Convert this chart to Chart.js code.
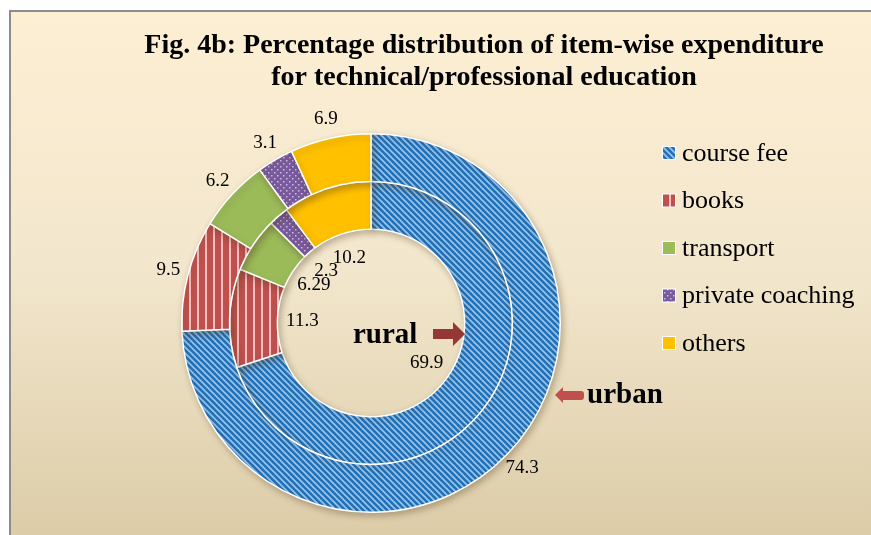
<!DOCTYPE html>
<html lang="en">
<head>
<meta charset="utf-8">
<title>Fig. 4b</title>
<script src="https://cdn.jsdelivr.net/npm/chart.js@4.4.1/dist/chart.umd.min.js"></script>
<style>
  html, body { margin: 0; padding: 0; background: #fff; }
  .c-chart { position: relative; width: 871px; height: 535px; }
</style>
</head>
<body>
<div class="c-chart"><canvas class="js-chart" width="871" height="535"></canvas></div>
<script>
//#region ***  Data                                     ***********
const titleLines = [
  "Fig. 4b: Percentage distribution of item-wise expenditure",
  "for technical/professional education",
];
const items = ["course fee", "books", "transport", "private coaching", "others"];
const urbanValues = [74.3, 9.5, 6.2, 3.1, 6.9];
const ruralValues = [69.9, 11.3, 6.29, 2.3, 10.2];
const urbanLabels = ["74.3", "9.5", "6.2", "3.1", "6.9"];
const ruralLabels = ["69.9", "11.3", "6.29", "2.3", "10.2"];
//#endregion

//#region ***  Patterns                                 ***********
const makeTile = function (size, drawFn) {
  const c = document.createElement("canvas");
  c.width = size;
  c.height = size;
  const g = c.getContext("2d");
  drawFn(g, size);
  return document.createElement("canvas").getContext("2d").createPattern(c, "repeat");
};

const getFills = function () {
  const courseFee = makeTile(6, function (g, s) {
    g.fillStyle = "#2271b8";
    g.fillRect(0, 0, s, s);
    g.strokeStyle = "#9cc6ec";
    g.lineWidth = 1.6;
    g.beginPath();
    g.moveTo(-1, -1); g.lineTo(s + 1, s + 1);
    g.moveTo(s - 1, -1); g.lineTo(s + 1, 1);
    g.moveTo(-1, s - 1); g.lineTo(1, s + 1);
    g.stroke();
  });
  const books = makeTile(8, function (g, s) {
    g.fillStyle = "#c0504d";
    g.fillRect(0, 0, s, s);
    g.fillStyle = "#efc2c0";
    g.fillRect(5, 0, 2, s);
  });
  const coaching = makeTile(6, function (g, s) {
    g.fillStyle = "#7a5a9e";
    g.fillRect(0, 0, s, s);
    g.fillStyle = "#cbbde0";
    g.fillRect(1, 1, 1.5, 1.5);
    g.fillRect(4, 4, 1.5, 1.5);
  });
  return [courseFee, books, "#9bbb59", coaching, "#ffc000"];
};
//#endregion

//#region ***  Plugins                                  ***********
const backgroundPlugin = {
  id: "background",
  beforeDraw: function (chart) {
    const ctx = chart.ctx;
    ctx.save();
    ctx.fillStyle = "#ffffff";
    ctx.fillRect(0, 0, chart.width, chart.height);
    const grad = ctx.createLinearGradient(0, 10, 0, chart.height);
    grad.addColorStop(0, "#fdefd4");
    grad.addColorStop(0.5, "#f2e6cc");
    grad.addColorStop(1, "#dccca8");
    ctx.fillStyle = grad;
    ctx.fillRect(9, 10, chart.width - 9, chart.height - 10);
    ctx.fillStyle = "#8c8c8c";
    ctx.fillRect(9, 10, chart.width - 9, 2);
    ctx.fillRect(9, 10, 2, chart.height - 10);
    ctx.restore();
  },
};

// soft shadow under the rings, like the office chart
const shadowPlugin = {
  id: "ringShadow",
  beforeDatasetsDraw: function (chart) {
    chart.ctx.save();
    chart.ctx.shadowColor = "rgba(90, 70, 40, 0.35)";
    chart.ctx.shadowBlur = 6;
    chart.ctx.shadowOffsetX = 2;
    chart.ctx.shadowOffsetY = 3;
  },
  afterDatasetsDraw: function (chart) {
    chart.ctx.restore();
  },
};

const textPlugin = {
  id: "texts",
  afterDatasetsDraw: function (chart) {
    const ctx = chart.ctx;
    ctx.save();
    ctx.fillStyle = "#000000";
    ctx.textAlign = "center";
    ctx.textBaseline = "middle";

    // title
    ctx.font = "bold 28px 'Liberation Serif', 'Times New Roman', serif";
    ctx.fillText(titleLines[0], 484, 46);
    ctx.fillText(titleLines[1], 484, 78);

    // value labels
    ctx.font = "19px 'Liberation Serif', 'Times New Roman', serif";
    const ringLabels = [urbanLabels, ruralLabels];
    chart.data.datasets.forEach(function (ds, di) {
      const meta = chart.getDatasetMeta(di);
      meta.data.forEach(function (arc, i) {
        const p = arc.getProps(["x", "y", "startAngle", "endAngle", "innerRadius", "outerRadius"], true);
        const mid = (p.startAngle + p.endAngle) / 2;
        const r = di === 0 ? p.outerRadius + 20 : p.innerRadius - 25;
        ctx.fillText(ringLabels[di][i], p.x + r * Math.cos(mid), p.y + r * Math.sin(mid));
      });
    });

    // legend
    ctx.textAlign = "left";
    ctx.font = "26px 'Liberation Serif', 'Times New Roman', serif";
    const fills = chart.data.datasets[0].backgroundColor;
    items.forEach(function (name, i) {
      const y = 153 + i * 47.5;
      ctx.fillStyle = "#ffffff";
      ctx.fillRect(662, y - 7, 14, 14);
      ctx.fillStyle = fills[i];
      ctx.fillRect(663, y - 6, 12, 12);
      ctx.fillStyle = "#000000";
      ctx.fillText(name, 682, y + 1);
    });

    // ring names with arrows
    ctx.font = "bold 29px 'Liberation Serif', 'Times New Roman', serif";
    ctx.fillText("rural", 353, 336);
    ctx.fillText("urban", 587, 396);

    ctx.fillStyle = "#953735";
    ctx.beginPath();
    ctx.moveTo(433, 329);
    ctx.lineTo(453, 329);
    ctx.lineTo(453, 322);
    ctx.lineTo(465, 334);
    ctx.lineTo(453, 346);
    ctx.lineTo(453, 339);
    ctx.lineTo(433, 339);
    ctx.closePath();
    ctx.fill();

    ctx.fillStyle = "#c0504d";
    ctx.beginPath();
    ctx.moveTo(555, 395);
    ctx.lineTo(563, 387);
    ctx.lineTo(563, 391);
    ctx.lineTo(581, 391);
    ctx.arcTo(584, 391, 584, 395, 3);
    ctx.lineTo(584, 397);
    ctx.arcTo(584, 400, 581, 400, 3);
    ctx.lineTo(563, 400);
    ctx.lineTo(563, 403);
    ctx.closePath();
    ctx.fill();

    ctx.restore();
  },
};
//#endregion

//#region ***  Chart                                    ***********
const showChart = function (htmlCanvas) {
  const fills = getFills();
  const config = {
    type: "doughnut",
    data: {
      labels: items,
      datasets: [
        {
          label: "urban",
          data: urbanValues,
          backgroundColor: fills,
          borderColor: "#ffffff",
          borderWidth: 1.5,
        },
        {
          label: "rural",
          data: ruralValues,
          backgroundColor: fills,
          borderColor: "#ffffff",
          borderWidth: 1.5,
        },
      ],
    },
    options: {
      responsive: false,
      animation: false,
      cutout: "49.5%",
      layout: { padding: { left: 181, top: 133, right: 310, bottom: 22 } },
      plugins: {
        legend: { display: false },
        title: { display: false },
        tooltip: { enabled: false },
      },
    },
    plugins: [backgroundPlugin, shadowPlugin, textPlugin],
  };
  new Chart(htmlCanvas, config);
};
//#endregion

//#region ***  Init / DOMContentLoaded                  ***********
const init = function () {
  const htmlChart = document.querySelector(".js-chart");
  showChart(htmlChart);
};

document.addEventListener("DOMContentLoaded", init);
//#endregion
</script>
</body>
</html>
